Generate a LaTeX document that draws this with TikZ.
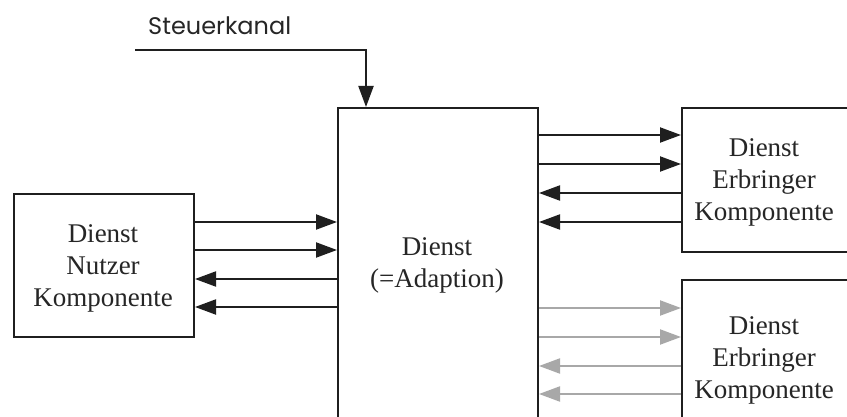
\documentclass[tikz,border=0pt]{standalone}
\usepackage{fontspec}
\setmainfont{Liberation Serif}
\newfontfamily\labelsans{Poppins}
\usetikzlibrary{arrows.meta}
\definecolor{arrgray}{HTML}{A8A8A8}
\tikzset{
  box/.style={draw=black!88, line width=2pt, fill=white, inner sep=0pt, anchor=north west},
  boxtext/.style={align=center, font=\fontsize{27}{32}\selectfont, text=black!85, inner sep=0pt},
  flow/.style={line width=2pt, draw=black!88, -{Triangle[length=21pt,width=15pt]}},
  flowgray/.style={line width=2pt, draw=arrgray, -{Triangle[length=21pt,width=15pt,fill=arrgray]}},
}
\begin{document}
\begin{tikzpicture}[x=1pt,y=-1pt]
\useasboundingbox (0,0) rectangle (847,417);
\fill[white] (0,0) rectangle (847,417);
\clip (0,0) rectangle (847,417);
% boxes
\node[box, minimum width=180, minimum height=143] (user) at (13,193) {};
\node[box, minimum width=200, minimum height=360] (svc) at (337,107) {};
\node[box, minimum width=180, minimum height=144] (prov1) at (681,107) {};
\node[box, minimum width=180, minimum height=170] (prov2) at (681,279) {};
% texts
\node[boxtext] (usertext) at (103,268) {Dienst\\Nutzer\\Komponente};
\node[boxtext] (svctext) at (437,265) {Dienst\\(=Adaption)};
\node[boxtext] (prov1text) at (764,182) {Dienst\\Erbringer\\Komponente};
\node[boxtext] (prov2text) at (764,360) {Dienst\\Erbringer\\Komponente};
% control channel
\node[anchor=base west, inner sep=0pt, font=\labelsans\fontsize{24}{28}\selectfont, text=black!85] (ctrl) at (148,35) {Steuerkanal};
\coordinate (cstart) at (135,50);
\coordinate (cbend) at (366,50);
\draw[flow] (cstart) -- (cbend) -- (cbend |- svc.north);
% user <-> service
\foreach \y in {222,250} {
  \draw[flow] (user.east |- 0,\y) -- (svc.west |- 0,\y);
}
\foreach \y in {279,307} {
  \draw[flow] (svc.west |- 0,\y) -- (user.east |- 0,\y);
}
% service <-> provider 1
\foreach \y in {135,164} {
  \draw[flow] (svc.east |- 0,\y) -- (prov1.west |- 0,\y);
}
\foreach \y in {193,222} {
  \draw[flow] (prov1.west |- 0,\y) -- (svc.east |- 0,\y);
}
% service <-> provider 2
\foreach \y in {308,337} {
  \draw[flowgray] (svc.east |- 0,\y) -- (prov2.west |- 0,\y);
}
\foreach \y in {366,394} {
  \draw[flowgray] (prov2.west |- 0,\y) -- (svc.east |- 0,\y);
}
\end{tikzpicture}
\end{document}
